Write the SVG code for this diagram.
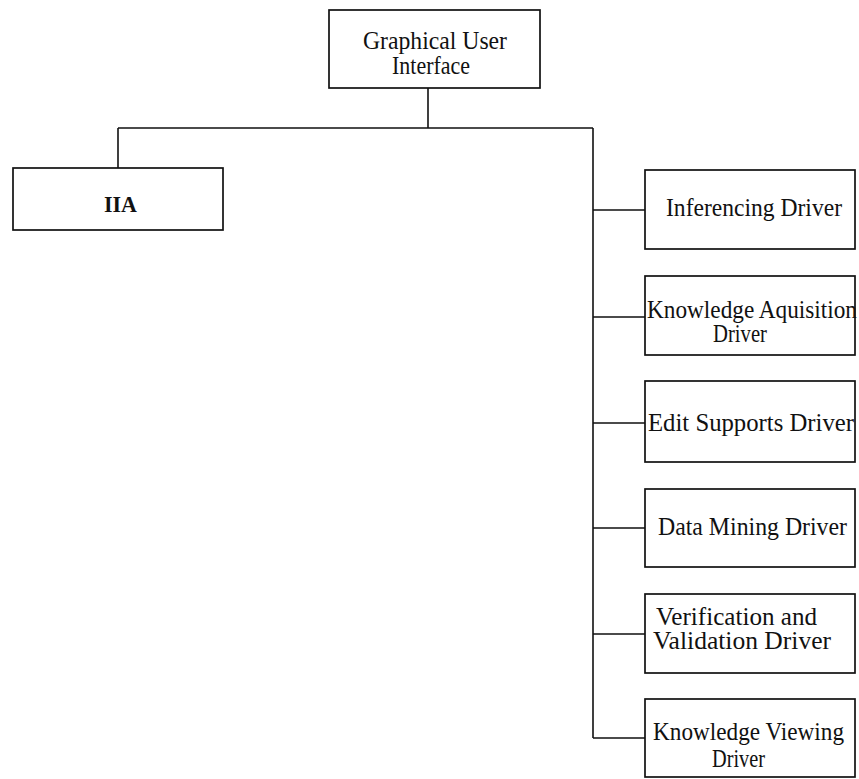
<svg xmlns="http://www.w3.org/2000/svg" width="859" height="779" viewBox="0 0 859 779">
<style>
.box{fill:#fff;stroke:#111;stroke-width:1.7}
.ln{fill:none;stroke:#111;stroke-width:1.6}
text{font-family:"Liberation Serif","Times New Roman",serif;font-size:25px;fill:#111}
.b{font-weight:bold;font-size:24px}
</style>
<rect width="859" height="779" fill="#fff"/>
<g id="connectors">
<path class="ln" d="M428,88 V128 M118,128 H593 M118,128 V168 M593,128 V738"/>
<path class="ln" d="M593,210 H645 M593,317 H645 M593,423 H645 M593,528 H645 M593,634 H645 M593,738 H645"/>
</g>
<g id="gui">
<rect class="box" x="329" y="10" width="211" height="78"/>
<text x="363" y="49" textLength="144" lengthAdjust="spacingAndGlyphs">Graphical User</text>
<text x="392" y="74" textLength="78" lengthAdjust="spacingAndGlyphs">Interface</text>
</g>
<g id="iia">
<rect class="box" x="13" y="168" width="210" height="62"/>
<text class="b" x="104" y="212" textLength="33" lengthAdjust="spacingAndGlyphs">IIA</text>
</g>
<g id="inferencing">
<rect class="box" x="645" y="170" width="210" height="79"/>
<text x="666" y="216" textLength="176" lengthAdjust="spacingAndGlyphs">Inferencing Driver</text>
</g>
<g id="knowledge-aquisition">
<rect class="box" x="645" y="276" width="210" height="79"/>
<text x="647" y="318" textLength="210" lengthAdjust="spacingAndGlyphs">Knowledge Aquisition</text>
<text x="713" y="342" textLength="54" lengthAdjust="spacingAndGlyphs">Driver</text>
</g>
<g id="edit-supports">
<rect class="box" x="645" y="381" width="210" height="81"/>
<text x="648" y="431" textLength="206" lengthAdjust="spacingAndGlyphs">Edit Supports Driver</text>
</g>
<g id="data-mining">
<rect class="box" x="645" y="489" width="210" height="78"/>
<text x="658" y="535" textLength="189" lengthAdjust="spacingAndGlyphs">Data Mining Driver</text>
</g>
<g id="verification">
<rect class="box" x="645" y="594" width="210" height="79"/>
<text x="656" y="625" textLength="161" lengthAdjust="spacingAndGlyphs">Verification and</text>
<text x="653" y="649" textLength="178" lengthAdjust="spacingAndGlyphs">Validation Driver</text>
</g>
<g id="knowledge-viewing">
<rect class="box" x="645" y="699" width="210" height="78"/>
<text x="653" y="740" textLength="191" lengthAdjust="spacingAndGlyphs">Knowledge Viewing</text>
<text x="712" y="767" textLength="53" lengthAdjust="spacingAndGlyphs">Driver</text>
</g>
</svg>
